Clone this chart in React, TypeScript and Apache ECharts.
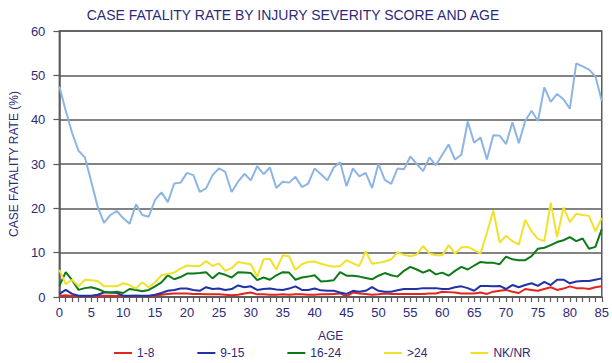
import React, { useEffect, useRef } from "react";
import * as echarts from "echarts";

const ages = [
  "0","1","2","3","4","5","6","7","8","9","10","11","12","13","14","15","16","17","18","19",
  "20","21","22","23","24","25","26","27","28","29","30","31","32","33","34","35","36","37","38","39",
  "40","41","42","43","44","45","46","47","48","49","50","51","52","53","54","55","56","57","58","59",
  "60","61","62","63","64","65","66","67","68","69","70","71","72","73","74","75","76","77","78","79",
  "80","81","82","83","84","85",
];

const iss1to8 = [
  0.3, 0.4, 0.2, 0.2, 0.2, 0.2, 0.2, 0.3, 0.3, 0.2, 0.2, 0.2, 0.3, 0.2, 0.2, 0.3, 0.5, 0.7, 0.8, 0.8,
  0.8, 0.7, 0.7, 0.6, 0.6, 0.6, 0.5, 0.4, 0.5, 0.8, 1.0, 0.6, 0.6, 0.5, 0.5, 0.6, 0.5, 0.6, 0.6, 0.5,
  0.5, 0.6, 0.6, 0.7, 0.8, 0.15, 1.0, 0.8, 0.7, 0.5, 0.6, 0.8, 0.7, 0.7, 0.7, 0.7, 0.7, 0.7, 0.8, 0.8,
  1.2, 1.1, 1.0, 0.8, 0.8, 0.8, 1.0, 0.7, 1.2, 1.4, 1.6, 1.2, 0.9, 1.8, 1.6, 1.4, 1.8, 2.2, 1.6, 1.9,
  2.4, 2.0, 2.0, 1.8, 2.2, 2.4,
];

const iss9to15 = [
  0.7, 1.6, 0.7, 0.3, 0.3, 0.3, 0.5, 1.0, 1.0, 0.9, 0.3, 0.3, 0.3, 0.3, 0.3, 0.5, 0.9, 1.4, 1.6, 1.9,
  1.9, 1.6, 1.4, 2.2, 1.8, 1.9, 1.6, 1.8, 2.6, 2.2, 2.4, 1.6, 1.8, 1.9, 1.7, 1.6, 1.9, 2.4, 1.6, 1.6,
  1.9, 1.5, 1.4, 1.4, 1.0, 0.7, 1.4, 1.2, 1.4, 2.2, 1.4, 1.2, 1.2, 1.5, 1.8, 1.8, 1.8, 2.0, 2.0, 2.0,
  1.8, 1.8, 2.2, 2.4, 2.0, 1.4, 2.5, 2.5, 2.4, 2.5, 1.8, 2.7, 2.2, 2.7, 3.1, 2.5, 3.4, 2.7, 3.9, 3.9,
  3.1, 3.5, 3.6, 3.6, 3.9, 4.2,
];

const iss16to24 = [
  2.5, 5.6, 3.8, 1.6, 2.0, 2.2, 1.8, 1.2, 1.0, 1.2, 0.9, 1.8, 1.6, 1.3, 1.6, 2.4, 3.3, 4.9, 4.0, 4.5,
  5.3, 5.3, 5.4, 5.6, 4.2, 5.4, 5.0, 4.4, 5.6, 5.5, 5.4, 3.8, 4.4, 3.9, 4.9, 5.6, 5.5, 3.9, 4.4, 4.6,
  4.9, 3.5, 3.6, 3.8, 5.6, 4.8, 4.8, 4.6, 4.3, 4.0, 4.8, 5.4, 4.9, 4.6, 5.9, 6.8, 6.2, 5.5, 6.1, 5.1,
  5.5, 4.8, 5.9, 6.8, 6.2, 7.1, 7.9, 7.7, 7.7, 7.4, 9.1, 8.5, 8.3, 8.3, 9.2, 10.9, 11.1, 11.7, 12.4, 12.8,
  13.5, 12.6, 13.2, 10.9, 11.3, 15.3,
];

const issOver24 = [
  6.1, 2.9, 3.9, 2.4, 3.9, 3.8, 3.6, 2.4, 2.4, 2.4, 3.1, 2.7, 1.9, 3.3, 2.2, 3.3, 4.9, 5.2, 5.5, 6.4,
  7.1, 7.0, 7.0, 8.1, 7.0, 7.6, 5.9, 6.5, 7.9, 7.6, 7.4, 4.6, 8.5, 8.6, 6.2, 9.4, 9.2, 6.1, 7.4, 7.9,
  8.0, 7.5, 7.1, 6.8, 7.0, 8.3, 7.6, 7.0, 10.3, 7.5, 7.7, 8.0, 8.5, 10.1, 9.5, 9.2, 9.6, 11.5, 9.8, 9.4,
  9.4, 11.7, 9.8, 11.2, 11.3, 10.6, 9.8, 14.5, 19.5, 12.3, 13.8, 12.6, 11.8, 17.4, 14.8, 13.1, 12.6, 21.3, 13.5, 20.2,
  16.9, 18.8, 18.5, 18.3, 14.8, 17.8,
];

const issNKNR = [
  47.5, 42.0, 37.0, 33.0, 31.5, 26.0, 20.4, 16.7, 18.5, 19.4, 17.8, 16.5, 20.9, 18.5, 18.1, 21.9, 23.6, 21.4, 25.6, 25.8,
  28.0, 27.5, 23.7, 24.5, 27.5, 29.0, 28.2, 23.7, 26.0, 27.8, 26.3, 29.5, 27.7, 29.2, 24.6, 26.0, 25.8, 27.1, 24.8, 25.6,
  29.0, 27.7, 26.3, 29.2, 30.4, 25.0, 29.0, 27.2, 28.0, 24.6, 30.0, 26.4, 25.5, 29.0, 28.8, 31.7, 30.0, 28.4, 31.5, 29.7,
  32.1, 34.4, 31.0, 32.1, 39.6, 34.8, 36.0, 31.0, 36.5, 36.4, 34.5, 39.4, 34.7, 39.7, 42.0, 39.7, 47.3, 44.0, 45.8, 44.6,
  42.5, 52.7, 52.0, 51.3, 49.8, 44.2,
];

const seriesNames = ["1-8", "9-15", "16-24", ">24", "NK/NR"];
const seriesColors = ["#e3251d", "#1f33a6", "#0d7a16", "#f0e22a", "#8db5e4"];
const legendColors = ["#e3251d", "#1f33a6", "#0d7a16", "#f0e22a", "#f0e22a"];
const seriesValues = [iss1to8, iss9to15, iss16to24, issOver24, issNKNR];

const yTicks = [0, 10, 20, 30, 40, 50, 60];

const textColor = "#2e2a7a";
const font = "'Liberation Sans', Arial, sans-serif";

export default function App() {
  const ref = useRef<HTMLDivElement>(null);

  useEffect(() => {
    if (!ref.current) return;
    const chart = echarts.init(ref.current, undefined, { renderer: "svg" });
    chart.setOption({
      animation: false,
      backgroundColor: "#ffffff",
      textStyle: { fontFamily: font, color: textColor },
      title: {
        text: "CASE FATALITY RATE BY INJURY SEVERITY SCORE AND AGE",
        left: 288,
        textAlign: "center",
        top: 3,
        textStyle: { fontFamily: font, fontSize: 14, fontWeight: "normal", color: textColor },
      },
      legend: {
        left: 114,
        top: 346,
        itemWidth: 18,
        itemHeight: 10,
        itemGap: 43,
        padding: 0,
        icon: "path://M0,4L18,4L18,6L0,6Z",
        textStyle: { fontFamily: font, fontSize: 12, color: textColor, lineHeight: 14 },
        data: seriesNames.map((n, i) => ({
          name: n,
          itemStyle: { color: legendColors[i] },
          lineStyle: { color: legendColors[i] },
        })),
      },
      grid: {
        left: 44,
        right: 8,
        top: 31,
        bottom: 66,
        show: true,
        borderColor: "#5a5a5a",
        borderWidth: 1.5,
      },
      xAxis: {
        type: "category",
        data: ages,
        boundaryGap: false,
        name: "AGE",
        nameLocation: "middle",
        nameGap: 33,
        nameTextStyle: { fontFamily: font, fontSize: 12, color: textColor },
        axisLine: { lineStyle: { color: "#5a5a5a", width: 1.5 } },
        axisTick: { show: true, interval: 0, length: 5, lineStyle: { color: "#5a5a5a", width: 1.2 } },
        axisLabel: {
          interval: 4,
          margin: 9,
          fontFamily: font,
          fontSize: 13,
          color: textColor,
        },
        splitLine: { show: false },
      },
      yAxis: {
        type: "value",
        min: 0,
        max: 60,
        interval: 10,
        name: "CASE FATALITY RATE (%)",
        nameLocation: "middle",
        nameGap: 38,
        nameTextStyle: { fontFamily: font, fontSize: 12, color: textColor },
        axisLine: { show: true, lineStyle: { color: "#5a5a5a", width: 1.5 } },
        axisTick: { show: true, length: 6, lineStyle: { color: "#5a5a5a", width: 1.2 } },
        axisLabel: {
          margin: 14,
          fontFamily: font,
          fontSize: 13,
          color: textColor,
          formatter: (v: number) => (yTicks.includes(v) ? String(v) : ""),
        },
        splitLine: { show: true, lineStyle: { color: "#5a5a5a", width: 1.5 } },
      },
      series: seriesNames.map((n, i) => ({
        name: n,
        type: "line",
        data: seriesValues[i],
        symbol: "none",
        showSymbol: false,
        lineStyle: { color: seriesColors[i], width: 2 },
        itemStyle: { color: seriesColors[i] },
        z: i === 4 ? 1 : 2 + i,
      })),
    });
    return () => chart.dispose();
  }, []);

  return (
    <div
      ref={ref}
      style={{ position: "fixed", left: 0, top: 0, width: 612, height: 363 }}
    />
  );
}
